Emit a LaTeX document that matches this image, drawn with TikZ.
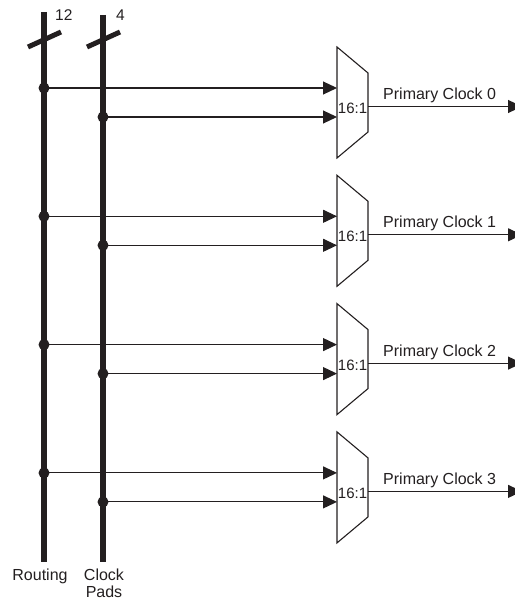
\documentclass[tikz,border=0pt]{standalone}
\usepackage{fontspec}
\setmainfont{Liberation Sans}
\usetikzlibrary{arrows.meta}
\definecolor{ink}{HTML}{231F20}
\tikzset{
  bus/.style={line width=6pt, draw=ink},
  busslash/.style={line width=5pt, draw=ink},
  wire/.style={line width=1.1pt, draw=ink},
  arr/.style={wire, -{Triangle[length=14pt,width=13pt]}},
  muxline/.style={line width=1.1pt, draw=ink, line join=miter},
  dotfill/.style={fill=ink},
  lbl/.style={inner sep=0pt, text=ink, font=\fontsize{16}{18}\selectfont},
  smalllbl/.style={inner sep=0pt, text=ink, font=\fontsize{15.5}{17}\selectfont},
  ratiolbl/.style={inner sep=0pt, text=ink, font=\fontsize{15}{17}\selectfont},
}
\begin{document}
\begin{tikzpicture}[x=1pt,y=-1pt]
\useasboundingbox (0,0) rectangle (514,601);
% buses
\coordinate (rtop) at (44,12);
\coordinate (rbot) at (44,562);
\coordinate (ctop) at (103,15);
\coordinate (cbot) at (103,562);
\draw[bus] (rtop) -- (rbot);
\draw[bus] (ctop) -- (cbot);
% slash marks
\coordinate (rs1) at (28,47); \coordinate (rs2) at (61,32);
\coordinate (cs1) at (87,47); \coordinate (cs2) at (120,32);
\draw[busslash] (rs1) -- (rs2);
\draw[busslash] (cs1) -- (cs2);
\node[smalllbl, anchor=base west] (n12) at (55,20.5) {12};
\node[smalllbl, anchor=base west] (n4) at (116,20.5) {4};
% bottom labels
\node[lbl, anchor=base] (routing) at (40,580) {Routing};
\node[lbl, anchor=base] (clock) at (104,580) {Clock};
\node[lbl, anchor=base] (pads) at (104,597) {Pads};
% muxes
\foreach \k in {0,...,3} {
  \pgfmathsetmacro\cy{102.5+128.3*\k}
  \coordinate (r\k) at (44,{\cy-14.5});
  \coordinate (c\k) at (103,{\cy+14.5});
  \coordinate (ia\k) at (337,{\cy-14.5});
  \coordinate (ib\k) at (337,{\cy+14.5});
  \coordinate (o\k) at (368,{\cy+4});
  \coordinate (e\k) at (522,{\cy+4});
  \draw[muxline] (337,{\cy-55.5}) -- (368,{\cy-29.5}) -- (368,{\cy+29.5}) -- (337,{\cy+55.5}) -- cycle;
  \draw[arr] (r\k) -- (ia\k);
  \draw[arr] (c\k) -- (ib\k);
  \fill[dotfill] (r\k) circle (5.5pt);
  \fill[dotfill] (c\k) circle (5.5pt);
  \draw[arr] (o\k) -- (e\k);
  \node[ratiolbl, anchor=base] (m\k) at (352.5,{\cy+11}) {16:1};
  \node[lbl, anchor=base west] (p\k) at (383,{\cy-3}) {Primary Clock \k};
}
\end{tikzpicture}
\end{document}
